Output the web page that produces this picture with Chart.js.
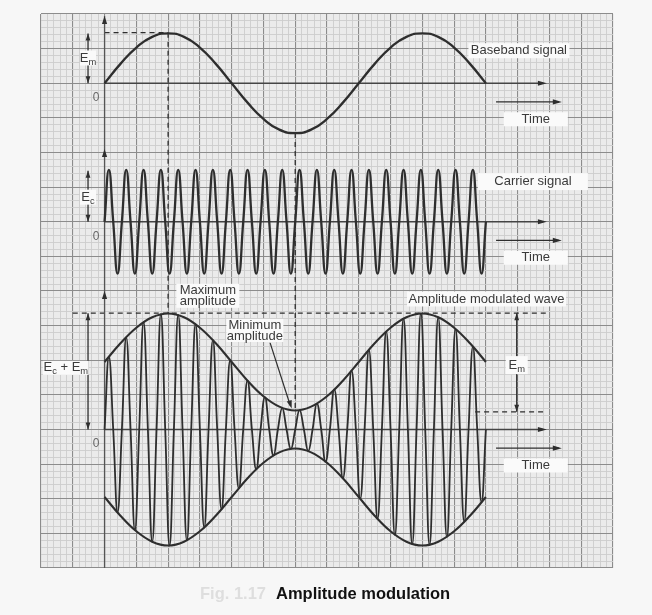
<!DOCTYPE html>
<html><head><meta charset="utf-8">
<script src="https://cdn.jsdelivr.net/npm/chart.js@4.4.1/dist/chart.umd.min.js"></script>
<style>html,body{margin:0;padding:0;background:#f7f7f7;}canvas{display:block;}</style>
</head><body>
<canvas id="c" width="652" height="615"></canvas>
<script>
// ---------- values (units = one major grid square) ----------
const basebandTime  = [2,2.5,3,3.5,4,4.5,5,5.5,6,6.5,7,7.5,8,8.5,9,9.5,10,10.5,11,11.5,12,12.5,13,13.5,14];
const basebandValue = [0,0.56,1.03,1.34,1.44,1.34,1.03,0.56,0,-0.56,-1.03,-1.34,-1.44,-1.34,-1.03,-0.56,0,0.56,1.03,1.34,1.44,1.34,1.03,0.56,0];

const carrierStart = 2, carrierEnd = 14;
const carrierPeaks   = [1.5,1.5,1.5,1.5,1.5,1.5,1.5,1.5,1.5,1.5,1.5,1.5,1.5,1.5,1.5,1.5,1.5,1.5,1.5,1.5,1.5,1.5];
const carrierTroughs = [-1.5,-1.5,-1.5,-1.5,-1.5,-1.5,-1.5,-1.5,-1.5,-1.5,-1.5,-1.5,-1.5,-1.5,-1.5,-1.5,-1.5,-1.5,-1.5,-1.5,-1.5,-1.5];

const amStart = 2, amEnd = 14;
const amPeaks   = [2.10,2.66,3.10,3.33,3.31,3.04,2.58,2.00,1.41,0.93,0.62,0.56,0.75,1.15,1.70,2.30,2.83,3.20,3.35,3.24,2.90,2.39];
const amTroughs = [-2.39,-2.90,-3.24,-3.35,-3.20,-2.83,-2.30,-1.70,-1.15,-0.75,-0.56,-0.62,-0.93,-1.41,-2.00,-2.58,-3.04,-3.31,-3.33,-3.10,-2.66,-2.10];

const envelopeTime  = [2,2.5,3,3.5,4,4.5,5,5.5,6,6.5,7,7.5,8,8.5,9,9.5,10,10.5,11,11.5,12,12.5,13,13.5,14];
const envelopeUpper = [1.95,2.49,2.94,3.24,3.35,3.24,2.94,2.49,1.95,1.41,0.96,0.66,0.55,0.66,0.96,1.41,1.95,2.49,2.94,3.24,3.35,3.24,2.94,2.49,1.95];
const envelopeLower = [-1.95,-2.49,-2.94,-3.24,-3.35,-3.24,-2.94,-2.49,-1.95,-1.41,-0.96,-0.66,-0.55,-0.66,-0.96,-1.41,-1.95,-2.49,-2.94,-3.24,-3.35,-3.24,-2.94,-2.49,-1.95];

const captionFig = 'Fig. 1.17';
const captionText = 'Amplitude modulation';

// ---------- layout (panel baselines on the grid paper) ----------
const ZERO = {baseband: 14, carrier: 10, am: 4};
const INK = '#2e2e2e';
const FONT = '"Liberation Sans", Arial, sans-serif';

function curve(times, values, zero){
  return times.map((t,i)=>({x:t, y:zero+values[i]}));
}
function oscillation(start, end, peaks, troughs, zero){
  const n = peaks.length, P = (end-start)/n, pts = [];
  for (let k=0;k<n;k++){
    const t0 = start + k*P;
    pts.push({x:t0, y:zero});
    pts.push({x:t0+P/4, y:zero+peaks[k]});
    pts.push({x:t0+P/2, y:zero});
    pts.push({x:t0+3*P/4, y:zero+troughs[k]});
  }
  pts.push({x:end, y:zero});
  return pts;
}

const isMajor = v => Math.abs(v - Math.round(v)) < 1e-6;
const gridOpts = {
  drawTicks:false,
  color: c => (c.tick && isMajor(c.tick.value)) ? '#8c8c8c' : '#cdcdcd',
  lineWidth: c => (c.tick && isMajor(c.tick.value)) ? 1.1 : 0.9
};

const annotate = {
  id:'annotate',
  beforeDraw(chart){
    const {ctx, chartArea:a} = chart;
    ctx.save(); ctx.fillStyle = '#ebebeb';
    ctx.fillRect(a.left, a.top, a.right-a.left, a.bottom-a.top);
    ctx.restore();
  },
  beforeDatasetsDraw(chart){
    const ctx = chart.ctx;
    const X = v => chart.scales.x.getPixelForValue(v);
    const Y = v => chart.scales.y.getPixelForValue(v);
    ctx.save();
    const line = (x1,y1,x2,y2,w=1.3,dash=null,col=INK)=>{
      ctx.beginPath(); ctx.strokeStyle=col; ctx.lineWidth=w; ctx.setLineDash(dash||[]);
      ctx.moveTo(X(x1),Y(y1)); ctx.lineTo(X(x2),Y(y2)); ctx.stroke(); ctx.setLineDash([]);
    };
    const head = (xf,yf,xt,yt,len=8,hw=2.6)=>{
      const x1=X(xf),y1=Y(yf),x2=X(xt),y2=Y(yt);
      const ang=Math.atan2(y2-y1,x2-x1);
      ctx.beginPath(); ctx.fillStyle=INK;
      ctx.moveTo(x2,y2);
      ctx.lineTo(x2-len*Math.cos(ang)+hw*Math.sin(ang), y2-len*Math.sin(ang)-hw*Math.cos(ang));
      ctx.lineTo(x2-len*Math.cos(ang)-hw*Math.sin(ang), y2-len*Math.sin(ang)+hw*Math.cos(ang));
      ctx.closePath(); ctx.fill();
    };
    const box = (cx,cy,w,h)=>{ ctx.fillStyle='#fafafa'; ctx.fillRect(X(cx)-w/2, Y(cy)-h/2, w, h); };
    const text = (s,cx,cy,size=13,col='#3a3a3a',weight='')=>{
      ctx.font=`${weight} ${size}px ${FONT}`; ctx.fillStyle=col; ctx.textAlign='center'; ctx.textBaseline='middle';
      ctx.fillText(s, X(cx), Y(cy));
    };
    const rich = (parts,cx,cy,size=13)=>{
      let total=0; const ws=[];
      parts.forEach(([s,sub])=>{ ctx.font=`${sub?size*0.72:size}px ${FONT}`; const w=ctx.measureText(s).width; ws.push(w); total+=w; });
      let x = X(cx)-total/2; ctx.textAlign='left'; ctx.textBaseline='middle'; ctx.fillStyle='#3a3a3a';
      parts.forEach(([s,sub],i)=>{ ctx.font=`${sub?size*0.72:size}px ${FONT}`; ctx.fillText(s, x, Y(cy)+(sub?4:0)); x+=ws[i]; });
    };
    const dbl = (x,y1,y2)=>{ line(x,y1,x,y2,1.3); head(x,y2,x,y1,7,2.4); head(x,y1,x,y2,7,2.4); };

    // dashed guide lines
    const D=[5,4];
    line(2,15.46,4,15.46,1.3,D);
    line(4,15.46,4,7.36,1.3,D);
    line(8,12.56,8,4.56,1.3,D);
    line(1.0,7.36,15.92,7.36,1.3,D);
    line(13.66,4.51,15.92,4.51,1.3,D);

    // vertical axis through all panels, with arrow heads at the top of each panel
    line(2,0,2,15.94,1.3,null,'#555');
    head(2,12,2,15.94); head(2,9,2,12.1); head(2,5,2,8.0);

    // horizontal axes, time arrows, "Time" and "0" labels
    [ZERO.baseband, ZERO.carrier, ZERO.am].forEach(z=>{
      line(2,z,15.8,z,1.4,null,'#444'); head(2,z,15.92,z,9,2.6);
      line(14.32,z-0.54,16.3,z-0.54,1.3); head(14.32,z-0.54,16.39,z-0.54,9,2.6);
      box(15.57,z-1.04,64,14); text('Time',15.57,z-1.04,13);
      text('0',1.73,z-0.42,12,'#666');
    });

    // amplitude markers
    dbl(1.48,15.44,14.0); box(1.48,14.73,16,15); rich([['E',0],['m',1]],1.48,14.73);
    dbl(1.48,11.47,10.0); box(1.48,10.71,16,15); rich([['E',0],['c',1]],1.48,10.71);
    dbl(1.48,7.36,4.0);  box(0.78,5.78,46,14); rich([['E',0],['c',1],[' + E',0],['m',1]],0.78,5.78);
    dbl(14.97,7.36,4.51); box(14.97,5.86,22,18); rich([['E',0],['m',1]],14.97,5.86);

    // labels
    box(15.04,14.94,101,15); text('Baseband signal',15.04,14.94);
    box(15.48,11.16,110,17); text('Carrier signal',15.48,11.16);
    box(5.25,7.86,63,24); text('Maximum',5.25,8.03); text('amplitude',5.25,7.69);
    box(6.73,6.86,57,23); text('Minimum',6.73,7.02); text('amplitude',6.73,6.70);
    line(7.21,6.50,7.85,4.68,1.2); head(7.21,6.50,7.89,4.61,8,2.6);
    box(14.02,7.77,159,15); text('Amplitude modulated wave',14.02,7.77);

    ctx.restore();
  },
  afterDraw(chart){
    const ctx = chart.ctx;
    ctx.save();
    ctx.font = `bold 16.5px ${FONT}`; ctx.textBaseline='alphabetic'; ctx.textAlign='left';
    ctx.fillStyle='#dedede'; ctx.fillText(captionFig, 200, 599);
    ctx.fillStyle='#111'; ctx.fillText(captionText, 276, 599);
    ctx.restore();
  }
};

const chart = new Chart(document.getElementById('c'), {
  type:'line',
  data:{datasets:[
    {label:'Baseband signal', data:curve(basebandTime, basebandValue, ZERO.baseband), borderWidth:2.3, tension:0.5},
    {label:'Carrier signal', data:oscillation(carrierStart, carrierEnd, carrierPeaks, carrierTroughs, ZERO.carrier), borderWidth:2.3, tension:0.5},
    {label:'Amplitude modulated wave', data:oscillation(amStart, amEnd, amPeaks, amTroughs, ZERO.am), borderWidth:1.8, tension:0.45},
    {label:'Upper envelope', data:curve(envelopeTime, envelopeUpper, ZERO.am), borderWidth:2.1, tension:0.4},
    {label:'Lower envelope', data:curve(envelopeTime, envelopeLower, ZERO.am), borderWidth:2.1, tension:0.4}
  ].map(d=>Object.assign(d,{borderColor:INK, pointRadius:0, fill:false}))},
  options:{
    responsive:false, animation:false, devicePixelRatio:1,
    layout:{padding:{left:41,right:39,top:14,bottom:47}},
    plugins:{legend:{display:false}, tooltip:{enabled:false}, title:{display:false}},
    scales:{
      x:{type:'linear', min:0, max:18, ticks:{display:false, stepSize:0.2, autoSkip:false}, grid:gridOpts, border:{display:false}},
      y:{type:'linear', min:0, max:16, ticks:{display:false, stepSize:0.2, autoSkip:false}, grid:gridOpts, border:{display:false}}
    }
  },
  plugins:[annotate]
});
</script>
</body></html>
